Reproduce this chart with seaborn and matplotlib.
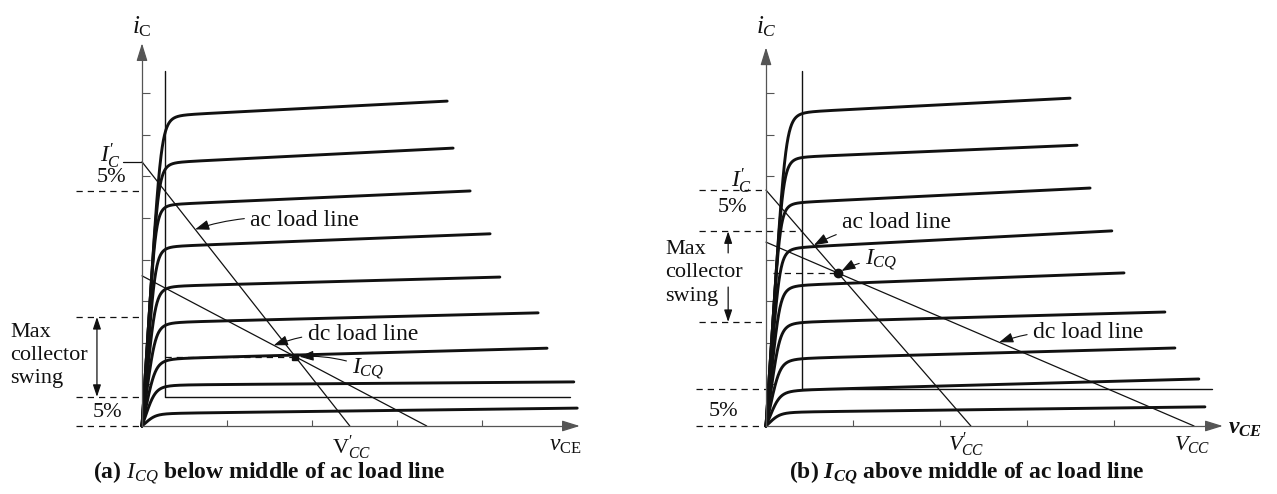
import numpy as np
import pandas as pd
import matplotlib
matplotlib.use("Agg")
import matplotlib.pyplot as plt
import seaborn as sns

sns.set_theme(style="white")
plt.rcParams["font.family"] = ["Liberation Serif", "DejaVu Serif"]
plt.rcParams["mathtext.fontset"] = "custom"
plt.rcParams["mathtext.rm"] = "Liberation Serif"
plt.rcParams["mathtext.it"] = "Liberation Serif:italic"
plt.rcParams["mathtext.bf"] = "Liberation Serif:bold"
plt.rcParams["mathtext.bfit"] = "Liberation Serif:italic:bold"

W, H, DPI = 1277, 494, 100

# ---------------- panel (a): I_CQ below middle of ac load line ----------------
a_knee_i = [7.48, 6.35, 5.34, 4.33, 3.37, 2.50, 1.63, 0.99, 0.31]
a_end_i = [7.81, 6.68, 5.65, 4.62, 3.58, 2.72, 1.87, 1.06, 0.43]
a_end_v = [7.18, 7.32, 7.72, 8.19, 8.42, 9.32, 9.53, 10.16, 10.24]
a_knee_v = 0.90
a_ic_ac = 6.35      # I'_C, ac load line on the i_C axis
a_vcc_ac = 4.89     # V'_CC, ac load line on the v_CE axis
a_ic_dc = 3.61      # dc load line on the i_C axis
a_vcc_dc = 6.70     # V_CC, dc load line on the v_CE axis
a_five_low = 0.70
a_five_high = 5.66
a_max_swing = 2.62
a_vsat = 0.54
a_edge_v = 10.07

# ---------------- panel (b): I_CQ above middle of ac load line ----------------
b_knee_i = [7.55, 6.47, 5.38, 4.30, 3.39, 2.50, 1.63, 0.87, 0.34]
b_end_i = [7.88, 6.75, 5.72, 4.69, 3.68, 2.74, 1.875, 1.13, 0.46]
b_end_v = [6.99, 7.15, 7.45, 7.95, 8.23, 9.17, 9.40, 9.95, 10.09]
b_knee_v = 0.83
b_ic_ac = 5.67
b_vcc_ac = 4.71
b_ic_dc = 4.42
b_vcc_dc = 9.84
b_five_low = 0.89
b_five_high = 4.68
b_max_swing = 2.50
b_vsat = 0.83
b_edge_v = 10.25

i_ticks = [1, 2, 3, 4, 5, 6, 7, 8]
v_ticks = [2, 4, 6, 8]

INK = "#111111"
AXIS = "#555555"


def family(knee_i, end_i, end_v, knee_v, steep=16.0, tau_min=0.33):
    frames = []
    for k, (i0, i1, v1) in enumerate(zip(knee_i, end_i, end_v)):
        v = np.concatenate([np.linspace(0, 1.6, 300), np.linspace(1.6, v1, 60)[1:]])
        flat = i0 + (i1 - i0) * (v - knee_v) / (v1 - knee_v)
        tau = max(i0 / steep, tau_min)
        p = 3.0 + 3.0 * min(1.0, i0 / 7.0)
        u = v / tau
        rise = u / (1.0 + u ** p) ** (1.0 / p)
        frames.append(pd.DataFrame({"v": v, "i": flat * rise, "curve": k}))
    return pd.concat(frames, ignore_index=True)


def place(ax, px0, px1, ox, oy, sx, sy):
    ax.set_position([px0 / W, 0.0, (px1 - px0) / W, 1.0])
    ax.set_xlim((px0 - ox) / sx, (px1 - ox) / sx)
    ax.set_ylim((oy - H) / sy, oy / sy)


def frame(ax, x_tip, y_tip):
    for s in ("top", "right"):
        ax.spines[s].set_visible(False)
    for s in ("left", "bottom"):
        ax.spines[s].set_position(("data", 0))
        ax.spines[s].set_color(AXIS)
        ax.spines[s].set_linewidth(0.9)
    ax.spines["left"].set_bounds(0, y_tip - 0.3)
    ax.spines["bottom"].set_bounds(0, x_tip - 0.3)
    ax.set_yticks(i_ticks)
    ax.set_xticks(v_ticks)
    ax.tick_params(axis="y", direction="in", length=6, width=0.8, color=AXIS,
                   left=True, labelleft=False)
    ax.tick_params(axis="x", direction="in", length=4, width=0.8, color=AXIS,
                   bottom=True, labelbottom=False)
    ax.grid(False)
    ax.set_xlabel("")
    ax.set_ylabel("")
    head = dict(arrowstyle="-|>,head_length=0.9,head_width=0.28", color=AXIS,
                lw=0.9, shrinkA=0, shrinkB=0)
    ax.annotate("", xy=(0, y_tip), xytext=(0, y_tip - 0.4), arrowprops=head)
    ax.annotate("", xy=(x_tip, 0), xytext=(x_tip - 0.4, 0), arrowprops=head)


def load_lines(ax, ic_ac, vcc_ac, ic_dc, vcc_dc):
    sns.lineplot(x=[0, vcc_ac], y=[ic_ac, 0], color=INK, lw=0.9, ax=ax)
    sns.lineplot(x=[0, vcc_dc], y=[ic_dc, 0], color=INK, lw=0.9, ax=ax)
    # operating point where the two load lines cross
    m_ac, m_dc = ic_ac / vcc_ac, ic_dc / vcc_dc
    vq = (ic_ac - ic_dc) / (m_ac - m_dc)
    iq = ic_ac - m_ac * vq
    return vq, iq


def hdash(ax, x0, x1, y):
    ax.plot([x0, x1], [y, y], color=INK, lw=0.9, ls=(0, (5, 4)))


def pointer(ax, text, xy, xytext, **kw):
    ax.annotate(text, xy=xy, xytext=xytext, fontsize=17, color=INK, va="center", ha="left",
                arrowprops=dict(arrowstyle="-|>,head_length=0.5,head_width=0.18", color=INK,
                                lw=0.8, shrinkA=2, shrinkB=0,
                                connectionstyle="arc3,rad=0.12"), **kw)


fig = plt.figure(figsize=(W / DPI, H / DPI), dpi=DPI)
fig.patch.set_facecolor("white")
ax_a = fig.add_axes([0, 0, 0.5, 1])
ax_b = fig.add_axes([0.5, 0, 0.5, 1])
for ax in (ax_a, ax_b):
    ax.set_facecolor("none")

# ============================ panel (a) ============================
ax = ax_a
place(ax, 0, 640, 142, 426, 42.5, 41.6)
frame(ax, 10.3, 9.2)
sns.lineplot(data=family(a_knee_i, a_end_i, a_end_v, a_knee_v), x="v", y="i",
             units="curve", estimator=None, sort=False, color=INK, lw=2.1, ax=ax)
ax.plot([a_vsat, a_vsat, a_edge_v], [8.53, a_five_low, a_five_low], color=INK, lw=1.0)
vq, iq = load_lines(ax, a_ic_ac, a_vcc_ac, a_ic_dc, a_vcc_dc)
ax.plot([vq], [iq], marker="s", ms=5, color=INK)
hdash(ax, a_vsat, vq, iq)
for y in (a_five_high, a_max_swing, a_five_low, 0.0):
    hdash(ax, -1.55, 0, y)
ax.plot([-0.45, 0], [a_ic_ac, a_ic_ac], color=INK, lw=0.9)
ax.annotate("", xy=(-1.06, a_five_low), xytext=(-1.06, a_max_swing),
            arrowprops=dict(arrowstyle="<|-|>,head_length=0.6,head_width=0.2", color=INK,
                            lw=0.9, shrinkA=0, shrinkB=0))
ax.text(0, 9.6, "$i_{\\mathrm{C}}$", fontsize=18, ha="center", va="center", color=INK)
ax.text(9.95, -0.46, "$v_{\\mathrm{CE}}$", fontsize=17, ha="center", va="center", color=INK)
ax.text(a_vcc_ac + 0.05, -0.52, "$\\mathrm{V}_{CC}^{\\prime}$", fontsize=16, ha="center",
        va="center", color=INK)
ax.text(-0.5, 6.5, "$I_{C}^{\\prime}$", fontsize=17, ha="right", va="center", color=INK)
ax.text(-0.72, 5.98, "5%", fontsize=16, ha="center", va="center", color=INK)
ax.text(-0.82, 0.33, "5%", fontsize=16, ha="center", va="center", color=INK)
ax.text(-3.1, 1.7, "Max\ncollector\nswing", fontsize=16, ha="left", va="center",
        linespacing=1.3, color=INK)
pointer(ax, "ac load line", xy=(1.25, a_ic_ac * (1 - 1.25 / a_vcc_ac)), xytext=(2.55, 4.95))
pointer(ax, "dc load line", xy=(3.1, a_ic_dc * (1 - 3.1 / a_vcc_dc)), xytext=(3.9, 2.2))
pointer(ax, "$I_{CQ}$", xy=(vq + 0.1, iq), xytext=(4.95, 1.38))
ax.text(3.0, -1.12, "(a) $I_{CQ}$ below middle of ac load line", fontsize=17,
        fontweight="bold", ha="center", va="center", color=INK)

# ============================ panel (b) ============================
ax = ax_b
place(ax, 640, 1277, 766, 426, 43.5, 41.6)
frame(ax, 10.5, 9.1)
sns.lineplot(data=family(b_knee_i, b_end_i, b_end_v, b_knee_v), x="v", y="i",
             units="curve", estimator=None, sort=False, color=INK, lw=2.1, ax=ax)
ax.plot([b_vsat, b_vsat, b_edge_v], [8.53, b_five_low, b_five_low], color=INK, lw=1.0)
vq, iq = load_lines(ax, b_ic_ac, b_vcc_ac, b_ic_dc, b_vcc_dc)
ax.plot([vq], [iq], marker="o", ms=6, color=INK)
hdash(ax, 0.15, vq, iq)
hdash(ax, -1.55, 0, b_ic_ac)
hdash(ax, -1.55, b_vsat, b_five_high)
hdash(ax, -1.55, 0, b_max_swing)
hdash(ax, -1.6, 0, b_five_low)
hdash(ax, -1.6, 0, 0.0)
arr = dict(arrowstyle="-|>,head_length=0.6,head_width=0.2", color=INK, lw=0.9,
           shrinkA=0, shrinkB=0)
ax.annotate("", xy=(-0.87, b_five_high), xytext=(-0.87, 4.16), arrowprops=arr)
ax.annotate("", xy=(-0.87, b_max_swing), xytext=(-0.87, 3.34), arrowprops=arr)
ax.text(0, 9.6, "$i_{C}$", fontsize=18, ha="center", va="center", color=INK)
ax.text(11.0, -0.05, "$\\mathbfit{v}_{\\mathbfit{CE}}$", fontsize=17, ha="center",
        va="center", color=INK)
ax.text(b_vcc_ac - 0.1, -0.45, "$V_{CC}^{\\prime}$", fontsize=16, ha="center", va="center",
        color=INK)
ax.text(b_vcc_dc - 0.05, -0.45, "$V_{CC}$", fontsize=16, ha="center", va="center",
        color=INK)
ax.text(-0.32, 5.9, "$I_{C}^{\\prime}$", fontsize=17, ha="right", va="center", color=INK)
ax.text(-0.78, 5.26, "5%", fontsize=16, ha="center", va="center", color=INK)
ax.text(-0.97, 0.34, "5%", fontsize=16, ha="center", va="center", color=INK)
ax.text(-2.32, 3.68, "Max\ncollector\nswing", fontsize=16, ha="left", va="center",
        linespacing=1.3, color=INK)
pointer(ax, "ac load line", xy=(1.1, b_ic_ac * (1 - 1.1 / b_vcc_ac)), xytext=(1.75, 4.9))
pointer(ax, "$I_{CQ}$", xy=(vq + 0.08, iq + 0.05), xytext=(2.28, 4.0))
pointer(ax, "dc load line", xy=(5.36, b_ic_dc * (1 - 5.36 / b_vcc_dc)), xytext=(6.14, 2.24))
ax.text(4.6, -1.12, "(b) $\\mathbfit{I}_{\\mathbfit{CQ}}$ above middle of ac load line",
        fontsize=17, fontweight="bold", ha="center", va="center", color=INK)

fig.savefig("out.png", dpi=DPI, facecolor="white")
